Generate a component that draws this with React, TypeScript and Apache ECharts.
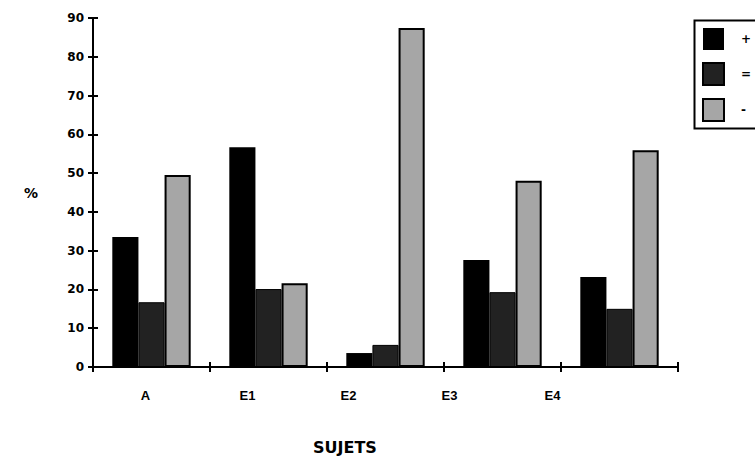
import React, { useEffect, useRef } from "react";
import * as echarts from "echarts";

const categories = ["A", "E1", "E2", "E3", "E4"];
const plusValues = [33.5, 56.7, 3.6, 27.6, 23.2];
const equalValues = [16.7, 20.1, 5.7, 19.3, 15.0];
const minusValues = [49.5, 21.6, 87.4, 48.0, 55.9];
const seriesNames = ["+", "=", "-"];
const labelShifts = [6, 21, 37, 53, 67];

export default function App() {
  const ref = useRef<HTMLDivElement>(null);
  useEffect(() => {
    document.body.style.margin = "0";
    const chart = echarts.init(ref.current!, undefined, { renderer: "svg" });
    const rich: Record<string, any> = {};
    labelShifts.forEach((s, i) => {
      rich["s" + i] = {
        fontFamily: "Liberation Sans",
        fontWeight: "bold",
        fontSize: 13,
        color: "#000",
        padding: [0, 2 * s, 0, 0],
      };
    });
    const font = { fontFamily: "DejaVu Sans", fontWeight: "bold" as const, color: "#000" };
    chart.setOption({
      animation: false,
      backgroundColor: "#fff",
      grid: { left: 93, right: 77, top: 18, bottom: 91 },
      legend: {
        data: seriesNames,
        orient: "vertical",
        left: 692,
        top: 18,
        padding: [10, 4, 8, 10],
        itemGap: 12,
        itemWidth: 21,
        itemHeight: 22,
        icon: "rect",
        textStyle: { ...font, fontSize: 12, padding: [0, 0, 0, 12] },
      },
      xAxis: [
        {
          type: "category",
          data: categories,
          axisLine: { lineStyle: { color: "#000", width: 2 } },
          axisTick: { show: true, length: 5, lineStyle: { color: "#000", width: 2 } },
          axisLabel: {
            margin: 22,
            formatter: (v: string, i: number) => `{s${i}|${v}}`,
            rich,
          },
          splitLine: { show: false },
        },
        {
          type: "category",
          data: categories,
          position: "bottom",
          axisLine: { show: false },
          axisTick: { show: true, inside: true, length: 5, lineStyle: { color: "#000", width: 2 } },
          axisLabel: { show: false },
        },
      ],
      yAxis: [
        {
          type: "value",
          min: 0,
          max: 90,
          interval: 10,
          axisLine: { show: true, lineStyle: { color: "#000", width: 2 } },
          axisTick: { show: true, length: 5, lineStyle: { color: "#000", width: 2 } },
          axisLabel: { ...font, fontSize: 12, margin: 9 },
          splitLine: { show: false },
        },
        {
          type: "value",
          min: 0,
          max: 90,
          interval: 10,
          position: "left",
          axisLine: { show: false },
          axisTick: { show: true, inside: true, length: 5, lineStyle: { color: "#000", width: 2 } },
          axisLabel: { show: false },
          splitLine: { show: false },
        },
      ],
      series: [
        {
          name: seriesNames[0],
          type: "bar",
          data: plusValues,
          barGap: "0%",
          barCategoryGap: "33%",
          itemStyle: { color: "#000" },
        },
        {
          name: seriesNames[1],
          type: "bar",
          data: equalValues,
          barGap: "0%",
          barCategoryGap: "33%",
          itemStyle: { color: "#222", borderColor: "#000", borderWidth: 1 },
        },
        {
          name: seriesNames[2],
          type: "bar",
          data: minusValues,
          barGap: "0%",
          barCategoryGap: "33%",
          itemStyle: { color: "#a6a6a6", borderColor: "#000", borderWidth: 2 },
        },
      ],
      graphic: [
        {
          type: "rect",
          left: 692,
          top: 18,
          shape: { width: 100, height: 108 },
          style: { fill: "none", stroke: "#000", lineWidth: 2 },
          silent: true,
        },
        {
          type: "text",
          left: 24,
          top: 186,
          style: { text: "%", fontSize: 14, ...font, fill: "#000" },
        },
        {
          type: "text",
          left: 313,
          top: 439,
          style: { text: "SUJETS", fontSize: 16, ...font, fill: "#000" },
        },
      ],
    });
    return () => chart.dispose();
  }, []);
  return <div ref={ref} style={{ width: 755, height: 458 }} />;
}
